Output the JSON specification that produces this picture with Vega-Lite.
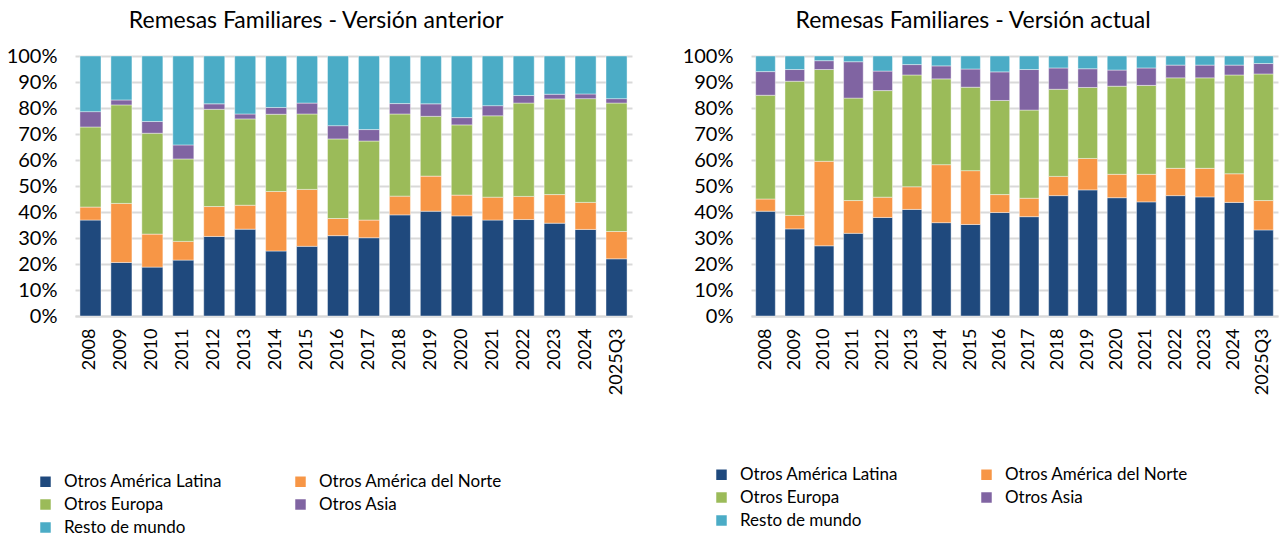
{
  "$schema": "https://vega.github.io/schema/vega-lite/v6.json",
  "background": "white",
  "padding": {"left": 6, "top": 10, "right": 4, "bottom": 0},
  "config": {
    "font": "Lato",
    "view": {"stroke": null},
    "concat": {"spacing": 50},
    "title": {"fontSize": 23, "fontWeight": "normal", "color": "black", "frame": "bounds", "offset": 13},
    "axisX": {"domainColor": "#D9D9D9", "domainWidth": 2, "ticks": false, "grid": false, "labelAngle": -90, "labelFontSize": 18, "labelColor": "black", "labelPadding": 12, "title": null},
    "axisY": {"domain": false, "ticks": false, "grid": true, "gridColor": "#D9D9D9", "gridWidth": 2, "labelFontSize": 20, "labelColor": "black", "labelPadding": 18, "title": null},
    "legend": {"title": null, "orient": "none", "columns": 2, "direction": "horizontal", "symbolType": "square", "symbolSize": 110, "symbolStrokeWidth": 0, "labelFontSize": 17, "labelColor": "black", "labelLimit": 400, "rowPadding": 5, "labelOffset": 10}
  },
  "datasets": {
    "anterior": [
      {"periodo": "2008", "Otros América Latina": 36.9, "Otros América del Norte": 5.0, "Otros Europa": 30.8, "Otros Asia": 5.9, "Resto de mundo": 21.4},
      {"periodo": "2009", "Otros América Latina": 20.6, "Otros América del Norte": 22.7, "Otros Europa": 37.9, "Otros Asia": 1.9, "Resto de mundo": 16.9},
      {"periodo": "2010", "Otros América Latina": 18.8, "Otros América del Norte": 12.7, "Otros Europa": 38.8, "Otros Asia": 4.5, "Resto de mundo": 25.2},
      {"periodo": "2011", "Otros América Latina": 21.5, "Otros América del Norte": 7.2, "Otros Europa": 31.7, "Otros Asia": 5.4, "Resto de mundo": 34.2},
      {"periodo": "2012", "Otros América Latina": 30.6, "Otros América del Norte": 11.5, "Otros Europa": 37.4, "Otros Asia": 2.1, "Resto de mundo": 18.4},
      {"periodo": "2013", "Otros América Latina": 33.4, "Otros América del Norte": 9.2, "Otros Europa": 33.2, "Otros Asia": 1.9, "Resto de mundo": 22.3},
      {"periodo": "2014", "Otros América Latina": 25.0, "Otros América del Norte": 22.9, "Otros Europa": 29.7, "Otros Asia": 2.6, "Resto de mundo": 19.8},
      {"periodo": "2015", "Otros América Latina": 26.8, "Otros América del Norte": 21.9, "Otros Europa": 29.0, "Otros Asia": 4.2, "Resto de mundo": 18.1},
      {"periodo": "2016", "Otros América Latina": 30.9, "Otros América del Norte": 6.6, "Otros Europa": 30.6, "Otros Asia": 5.1, "Resto de mundo": 26.8},
      {"periodo": "2017", "Otros América Latina": 30.1, "Otros América del Norte": 6.8, "Otros Europa": 30.4, "Otros Asia": 4.4, "Resto de mundo": 28.3},
      {"periodo": "2018", "Otros América Latina": 38.9, "Otros América del Norte": 7.2, "Otros Europa": 31.6, "Otros Asia": 4.0, "Resto de mundo": 18.3},
      {"periodo": "2019", "Otros América Latina": 40.3, "Otros América del Norte": 13.5, "Otros Europa": 23.0, "Otros Asia": 4.8, "Resto de mundo": 18.4},
      {"periodo": "2020", "Otros América Latina": 38.5, "Otros América del Norte": 8.0, "Otros Europa": 27.0, "Otros Asia": 2.8, "Resto de mundo": 23.7},
      {"periodo": "2021", "Otros América Latina": 36.9, "Otros América del Norte": 8.8, "Otros Europa": 31.3, "Otros Asia": 3.9, "Resto de mundo": 19.1},
      {"periodo": "2022", "Otros América Latina": 37.1, "Otros América del Norte": 8.9, "Otros Europa": 35.9, "Otros Asia": 2.9, "Resto de mundo": 15.2},
      {"periodo": "2023", "Otros América Latina": 35.7, "Otros América del Norte": 11.0, "Otros Europa": 36.8, "Otros Asia": 1.8, "Resto de mundo": 14.7},
      {"periodo": "2024", "Otros América Latina": 33.3, "Otros América del Norte": 10.4, "Otros Europa": 39.9, "Otros Asia": 1.8, "Resto de mundo": 14.6},
      {"periodo": "2025Q3", "Otros América Latina": 22.0, "Otros América del Norte": 10.5, "Otros Europa": 49.4, "Otros Asia": 1.7, "Resto de mundo": 16.4}
    ],
    "actual": [
      {"periodo": "2008", "Otros América Latina": 40.3, "Otros América del Norte": 4.7, "Otros Europa": 39.9, "Otros Asia": 9.1, "Resto de mundo": 6.0},
      {"periodo": "2009", "Otros América Latina": 33.5, "Otros América del Norte": 5.2, "Otros Europa": 51.6, "Otros Asia": 4.5, "Resto de mundo": 5.2},
      {"periodo": "2010", "Otros América Latina": 27.0, "Otros América del Norte": 32.5, "Otros Europa": 35.3, "Otros Asia": 3.4, "Resto de mundo": 1.8},
      {"periodo": "2011", "Otros América Latina": 31.8, "Otros América del Norte": 12.6, "Otros Europa": 39.4, "Otros Asia": 14.0, "Resto de mundo": 2.2},
      {"periodo": "2012", "Otros América Latina": 37.9, "Otros América del Norte": 7.8, "Otros Europa": 41.0, "Otros Asia": 7.5, "Resto de mundo": 5.8},
      {"periodo": "2013", "Otros América Latina": 41.0, "Otros América del Norte": 8.7, "Otros Europa": 43.0, "Otros Asia": 4.0, "Resto de mundo": 3.3},
      {"periodo": "2014", "Otros América Latina": 35.9, "Otros América del Norte": 22.3, "Otros Europa": 33.0, "Otros Asia": 5.0, "Resto de mundo": 3.8},
      {"periodo": "2015", "Otros América Latina": 35.2, "Otros América del Norte": 20.7, "Otros Europa": 32.1, "Otros Asia": 7.0, "Resto de mundo": 5.0},
      {"periodo": "2016", "Otros América Latina": 39.8, "Otros América del Norte": 6.9, "Otros Europa": 36.2, "Otros Asia": 11.0, "Resto de mundo": 6.1},
      {"periodo": "2017", "Otros América Latina": 38.2, "Otros América del Norte": 7.1, "Otros Europa": 33.9, "Otros Asia": 15.6, "Resto de mundo": 5.2},
      {"periodo": "2018", "Otros América Latina": 46.3, "Otros América del Norte": 7.4, "Otros Europa": 33.5, "Otros Asia": 8.2, "Resto de mundo": 4.6},
      {"periodo": "2019", "Otros América Latina": 48.5, "Otros América del Norte": 12.1, "Otros Europa": 27.3, "Otros Asia": 7.2, "Resto de mundo": 4.9},
      {"periodo": "2020", "Otros América Latina": 45.5, "Otros América del Norte": 9.0, "Otros Europa": 33.9, "Otros Asia": 6.2, "Resto de mundo": 5.4},
      {"periodo": "2021", "Otros América Latina": 43.9, "Otros América del Norte": 10.6, "Otros Europa": 34.2, "Otros Asia": 6.7, "Resto de mundo": 4.6},
      {"periodo": "2022", "Otros América Latina": 46.3, "Otros América del Norte": 10.5, "Otros Europa": 34.8, "Otros Asia": 4.9, "Resto de mundo": 3.5},
      {"periodo": "2023", "Otros América Latina": 45.8, "Otros América del Norte": 11.0, "Otros Europa": 34.8, "Otros Asia": 4.9, "Resto de mundo": 3.5},
      {"periodo": "2024", "Otros América Latina": 43.7, "Otros América del Norte": 11.0, "Otros Europa": 38.0, "Otros Asia": 3.8, "Resto de mundo": 3.5},
      {"periodo": "2025Q3", "Otros América Latina": 33.1, "Otros América del Norte": 11.3, "Otros Europa": 48.7, "Otros Asia": 4.0, "Resto de mundo": 2.9}
    ]
  },
  "hconcat": [
    {
      "title": {"text": "Remesas Familiares - Versión anterior", "dx": -3},
      "width": 557,
      "height": 260,
      "data": {"name": "anterior"},
      "transform": [
        {"fold": ["Otros América Latina", "Otros América del Norte", "Otros Europa", "Otros Asia", "Resto de mundo"], "as": ["region", "valor"]},
        {"calculate": "indexof(['Otros América Latina','Otros América del Norte','Otros Europa','Otros Asia','Resto de mundo'], datum.region)", "as": "orden"}
      ],
      "mark": {"type": "bar", "stroke": "#ffffff", "strokeWidth": 0.6, "strokeOpacity": 0.7},
      "encoding": {
        "x": {"field": "periodo", "type": "ordinal", "sort": null, "scale": {"paddingInner": 0.32, "paddingOuter": 0.16}},
        "y": {"field": "valor", "type": "quantitative", "stack": "normalize", "scale": {"domain": [0, 1], "nice": false}, "axis": {"format": ".0%", "values": [0, 0.1, 0.2, 0.3, 0.4, 0.5, 0.6, 0.7, 0.8, 0.9, 1]}},
        "color": {"field": "region", "type": "nominal", "scale": {"domain": ["Otros América Latina", "Otros América del Norte", "Otros Europa", "Otros Asia", "Resto de mundo"], "range": ["#1F497D", "#F79646", "#9BBB59", "#8064A2", "#4BACC6"]}, "legend": {"legendX": -38, "legendY": 417, "columnPadding": 70}},
        "order": {"field": "orden", "type": "quantitative"}
      }
    },
    {
      "title": {"text": "Remesas Familiares - Versión actual", "dx": -7},
      "width": 527,
      "height": 260,
      "data": {"name": "actual"},
      "transform": [
        {"fold": ["Otros América Latina", "Otros América del Norte", "Otros Europa", "Otros Asia", "Resto de mundo"], "as": ["region", "valor"]},
        {"calculate": "indexof(['Otros América Latina','Otros América del Norte','Otros Europa','Otros Asia','Resto de mundo'], datum.region)", "as": "orden"}
      ],
      "mark": {"type": "bar", "stroke": "#ffffff", "strokeWidth": 0.6, "strokeOpacity": 0.7},
      "encoding": {
        "x": {"field": "periodo", "type": "ordinal", "sort": null, "scale": {"paddingInner": 0.33, "paddingOuter": 0.16}},
        "y": {"field": "valor", "type": "quantitative", "stack": "normalize", "scale": {"domain": [0, 1], "nice": false}, "axis": {"format": ".0%", "values": [0, 0.1, 0.2, 0.3, 0.4, 0.5, 0.6, 0.7, 0.8, 0.9, 1]}},
        "color": {"field": "region", "type": "nominal", "scale": {"domain": ["Otros América Latina", "Otros América del Norte", "Otros Europa", "Otros Asia", "Resto de mundo"], "range": ["#1F497D", "#F79646", "#9BBB59", "#8064A2", "#4BACC6"]}, "legend": {"legendX": -38, "legendY": 410, "columnPadding": 80}},
        "order": {"field": "orden", "type": "quantitative"}
      }
    }
  ],
  "resolve": {"scale": {"color": "independent"}, "legend": {"color": "independent"}}
}
